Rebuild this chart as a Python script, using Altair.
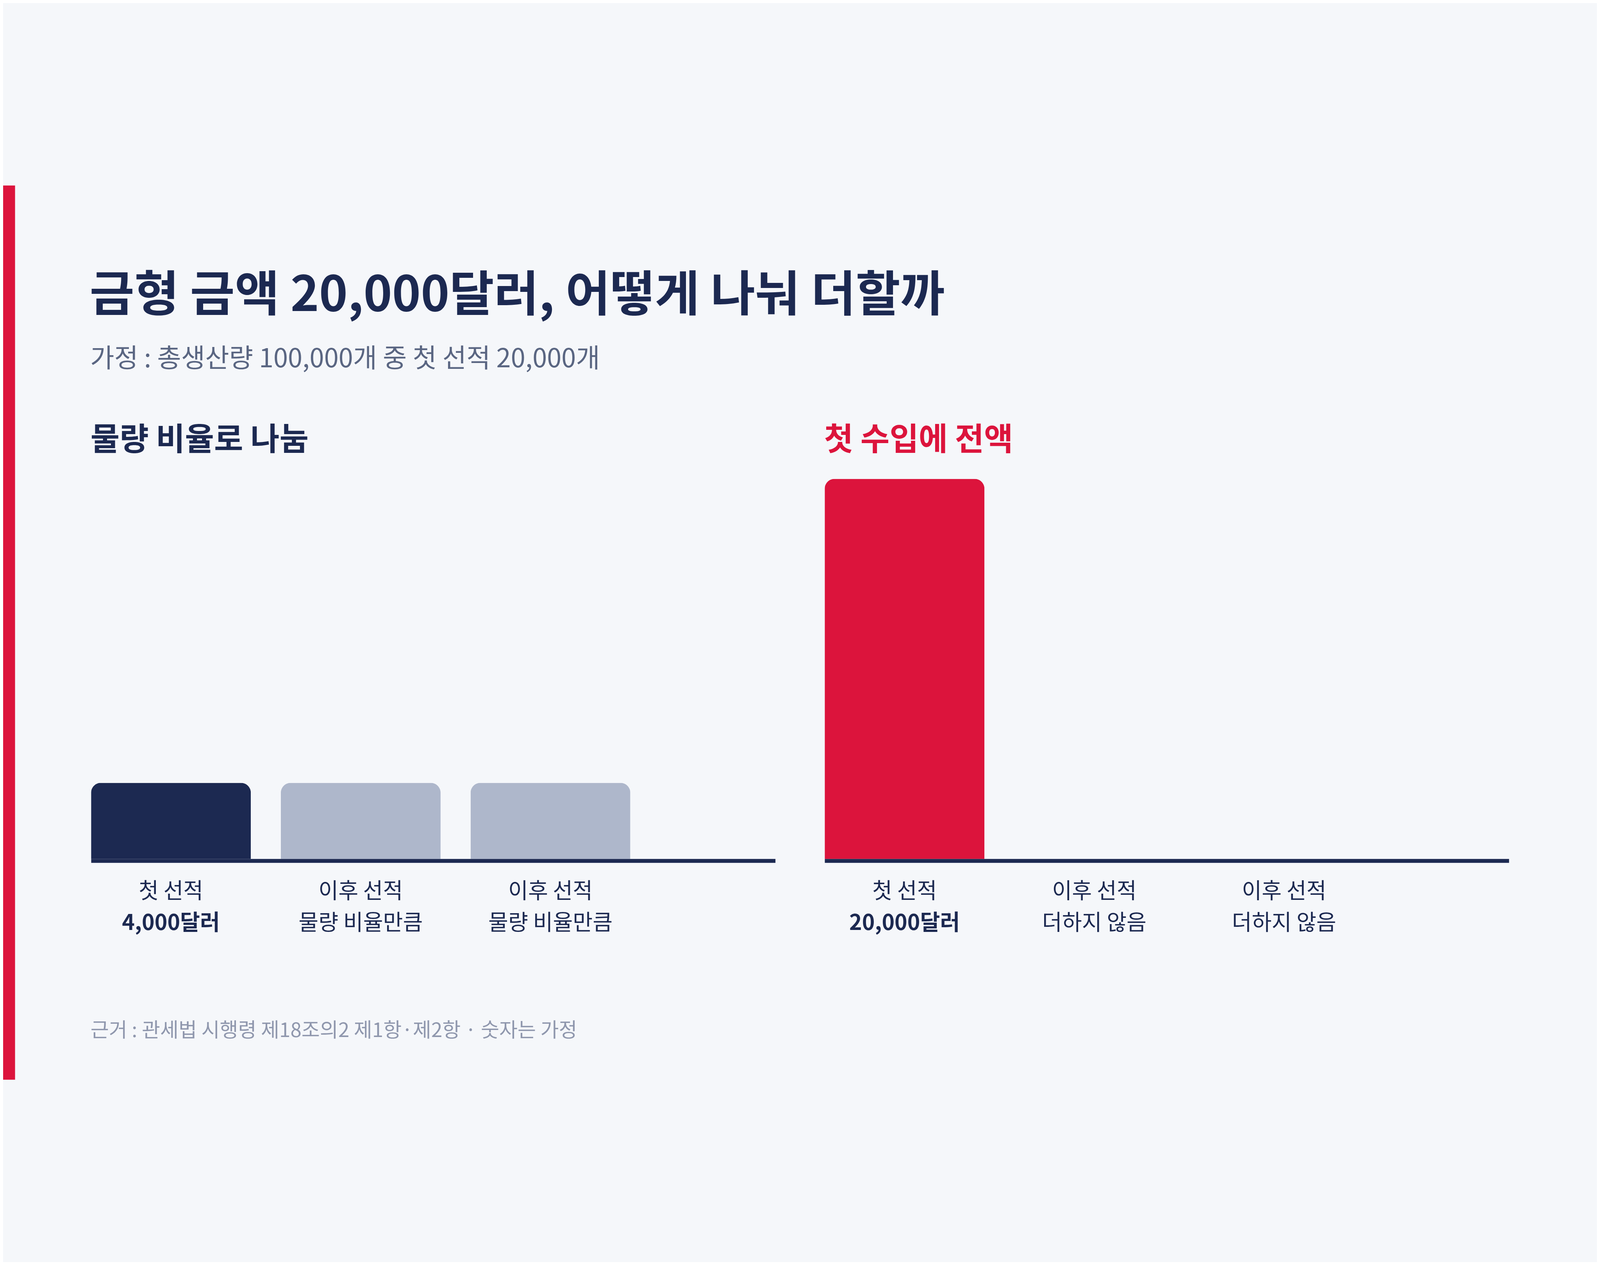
import altair as alt
import pandas as pd

NAVY = "#1c2951"
GRAY_BAR = "#aeb7cb"
RED = "#dc143c"
BG = "#f5f7fa"
SUB_GRAY = "#5a6682"
NOTE_GRAY = "#8f97ad"
FONT = "Noto Sans CJK KR"

# texts
title_text = "금형 금액 20,000달러, 어떻게 나눠 더할까"
subtitle_text = "가정 : 총생산량 100,000개 중 첫 선적 20,000개"
source_text = "근거 : 관세법 시행령 제18조의2 제1항·제2항 · 숫자는 가정"

# shipments (same for both panels)
slots = [1, 2, 3]
shipments = ["첫 선적", "이후 선적", "이후 선적"]
kinds = ["first", "later", "later"]

# left panel: split by volume ratio
prorated_title = "물량 비율로 나눔"
prorated_values = [4000, 4000, 4000]
prorated_notes = ["4,000달러", "물량 비율만큼", "물량 비율만큼"]

# right panel: all on the first import
full_title = "첫 수입에 전액"
full_values = [20000, 0, 0]
full_notes = ["20,000달러", "더하지 않음", "더하지 않음"]

# canvas layout (pixels)
CANVAS_W = 5744
CANVAS_H = 3222
LEFT_RANGE = [317, 2783]
RIGHT_RANGE = [2961, 5427]
Y_RANGE = [2426, 1057]          # value 0 -> baseline, 20000 -> top
AXIS_OFFSET = 2433 - CANVAS_H   # lift the x domain line to the baseline
LABEL_SIZE = 78


def text_layer(text, size, color, x, y, weight="normal"):
    return (
        alt.Chart(pd.DataFrame({"t": [text]}))
        .mark_text(font=FONT, fontSize=size, fontWeight=weight, color=color,
                   align="left", baseline="alphabetic")
        .encode(x=alt.value(x), y=alt.value(y), text="t:N")
    )


def panel(values, notes, first_color, x_range):
    df = pd.DataFrame({
        "slot": slots,
        "shipment": shipments,
        "kind": kinds,
        "value": values,
        "note": notes,
    })
    base = alt.Chart(df)

    x = alt.X(
        "slot:O",
        scale=alt.Scale(range=x_range, paddingInner=0.158, paddingOuter=0.382, align=0),
        axis=alt.Axis(title=None, labels=False, ticks=False, grid=False,
                      orient="bottom", domainColor=NAVY, domainWidth=14,
                      offset=AXIS_OFFSET, zindex=1),
    )
    y0 = alt.datum(0)

    bars = (
        base.transform_filter("datum.value > 0")
        .mark_bar(cornerRadiusTopLeft=36, cornerRadiusTopRight=36)
        .encode(
            x=x,
            y=alt.Y("value:Q", scale=alt.Scale(domain=[0, 20000], range=Y_RANGE), axis=None),
            color=alt.condition("datum.kind == 'first'", alt.value(first_color), alt.value(GRAY_BAR)),
        )
    )

    line1 = base.mark_text(
        font=FONT, fontSize=LABEL_SIZE, color=NAVY, baseline="alphabetic", dy=143
    ).encode(x=x, y=y0, text="shipment:N")

    line2_bold = (
        base.transform_filter("datum.kind == 'first'")
        .mark_text(font=FONT, fontSize=LABEL_SIZE, fontWeight="bold", color=NAVY,
                   baseline="alphabetic", dy=257)
        .encode(x=x, y=y0, text="note:N")
    )
    line2 = (
        base.transform_filter("datum.kind != 'first'")
        .mark_text(font=FONT, fontSize=LABEL_SIZE, color=NAVY,
                   baseline="alphabetic", dy=257)
        .encode(x=x, y=y0, text="note:N")
    )

    return alt.layer(bars, line1, line2_bold, line2)


left = panel(prorated_values, prorated_notes, NAVY, LEFT_RANGE)
right = panel(full_values, full_notes, RED, RIGHT_RANGE)

# red strip on the left edge
strip = (
    alt.Chart(pd.DataFrame({"a": [0]}))
    .mark_rect(color=RED)
    .encode(x=alt.value(0), x2=alt.value(43), y=alt.value(0), y2=alt.value(CANVAS_H))
)

title = text_layer(title_text, 175, NAVY, 312, 452, weight="bold")
subtitle = text_layer(subtitle_text, 94, SUB_GRAY, 314, 655)
left_head = text_layer(prorated_title, 114, NAVY, 315, 954, weight="bold")
right_head = text_layer(full_title, 114, RED, 2959, 954, weight="bold")
source = text_layer(source_text, 72, NOTE_GRAY, 315, 3068)

chart = (
    alt.layer(strip, title, subtitle, left_head, right_head, source, left, right)
    .resolve_scale(x="independent")
    .resolve_axis(x="independent")
    .properties(width=CANVAS_W, height=CANVAS_H, autosize="none", padding=0, background=BG)
    .configure_view(stroke=None)
)

chart.save("out.html", embed_options={"renderer": "svg", "actions": False})
